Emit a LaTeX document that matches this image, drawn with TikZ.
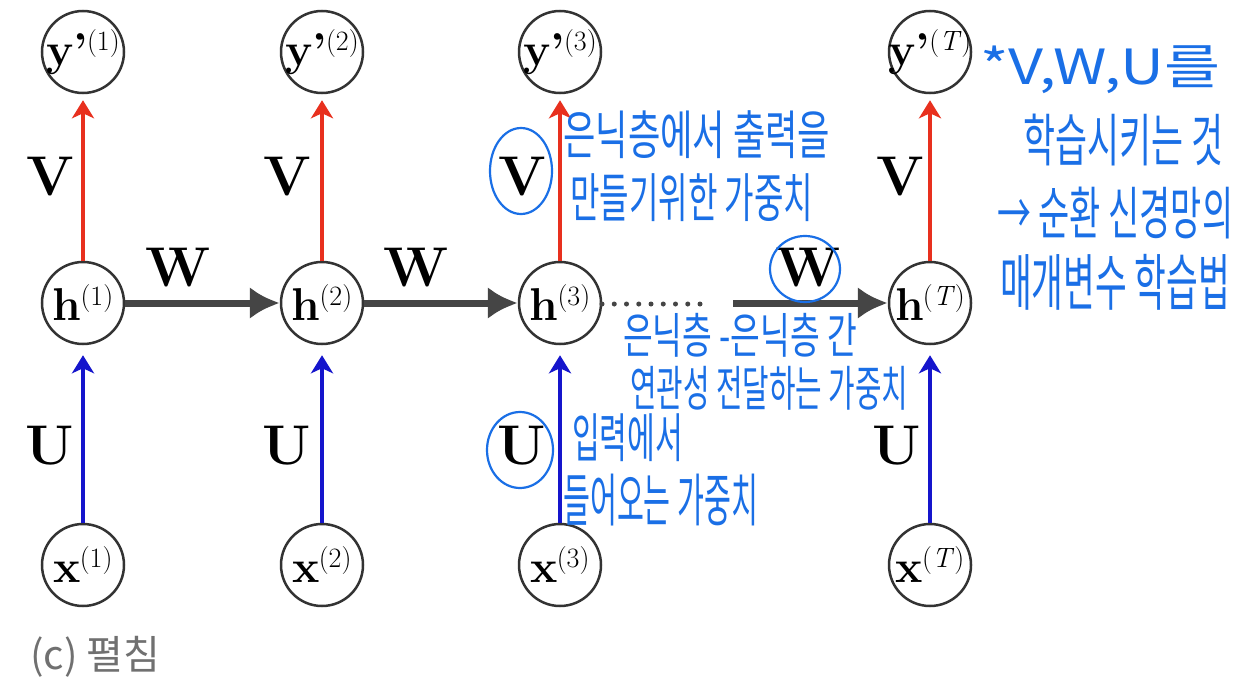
\documentclass[tikz,border=0pt]{standalone}
\usepackage{fontspec}
\usepackage{graphicx}
\usetikzlibrary{arrows.meta,shapes.geometric}
\newfontfamily\hand{Noto Sans CJK KR}
\definecolor{redarr}{HTML}{E8301E}
\definecolor{bluearr}{HTML}{1515CC}
\definecolor{warr}{HTML}{454545}
\definecolor{ink}{HTML}{1A6FE6}
\definecolor{ring}{HTML}{333333}
\definecolor{capgray}{HTML}{707070}
\newcommand{\hw}[3]{\resizebox*{#1pt}{#2pt}{\hand #3}}
\newcommand{\cl}[2]{{\fontsize{46}{50}\selectfont\bfseries #1}\kern-1pt\raisebox{15pt}{\fontsize{28}{30}\selectfont #2}}
\begin{document}
\begin{tikzpicture}[x=1pt,y=-1pt,
  circ/.style={draw=ring,line width=2.5pt,circle,minimum size=82pt,inner sep=0pt},
  inlbl/.style={inner sep=0pt},
  wlbl/.style={font=\fontsize{56}{60}\selectfont\bfseries,inner sep=0pt},
  vedge/.style={draw=redarr,line width=4pt,-{Stealth[length=18pt,width=22pt,inset=5pt]},shorten >=6pt},
  uedge/.style={draw=bluearr,line width=4.5pt,-{Stealth[length=18pt,width=22pt,inset=5pt]},shorten >=10pt},
  hedge/.style={draw=warr,line width=7pt,-{Latex[length=30pt,width=32pt]}},
  inkring/.style={draw=ink,line width=2.2pt,ellipse,inner sep=0pt},
  note/.style={text=ink,inner sep=0pt,anchor=west},
  caption/.style={text=capgray,font=\hand\fontsize{40}{44}\selectfont,inner sep=0pt,anchor=west}]
\useasboundingbox[fill=white] (0,0) rectangle (1236,680);

% nodes
\foreach \c/\xx in {1/83,2/322,3/560,4/930}{
  \node[circ] (y\c) at (\xx,52) {};
  \node[circ] (h\c) at (\xx,303) {};
  \node[circ] (x\c) at (\xx,565) {};
}
\node[inlbl] (ly1) at (y1) {\cl{y’}{(1)}};
\node[inlbl] (ly2) at (y2) {\cl{y’}{(2)}};
\node[inlbl] (ly3) at (y3) {\cl{y’}{(3)}};
\node[inlbl] (ly4) at (y4) {\cl{y’}{(\textit{T})}};
\node[inlbl] (lh1) at (h1) {\cl{h}{(1)}};
\node[inlbl] (lh2) at (h2) {\cl{h}{(2)}};
\node[inlbl] (lh3) at (h3) {\cl{h}{(3)}};
\node[inlbl] (lh4) at (h4) {\cl{h}{(\textit{T})}};
\node[inlbl] (lx1) at (x1) {\cl{x}{(1)}};
\node[inlbl] (lx2) at (x2) {\cl{x}{(2)}};
\node[inlbl] (lx3) at (x3) {\cl{x}{(3)}};
\node[inlbl] (lx4) at (x4) {\cl{x}{(\textit{T})}};

% edges
\foreach \c in {1,2,3,4}{
  \draw[vedge] (h\c) -- (y\c);
  \draw[uedge] (x\c) -- (h\c);
}
\draw[hedge] (h1) -- (h2);
\draw[hedge] (h2) -- (h3);
\coordinate (d1) at (602,304);
\coordinate (d2) at (702,304);
\draw[warr,line width=5pt,line cap=round,dash pattern=on 0pt off 12.25pt] (d1) -- (d2);
\coordinate (ws) at (733,303);
\draw[hedge] (ws) -- (h4.west);

% weight labels
\node[wlbl] (V1) at (50,177) {V};
\node[wlbl] (V2) at (287,177) {V};
\node[wlbl] (V3) at (522,177) {V};
\node[wlbl] (V4) at (900,177) {V};
\node[wlbl] (W1) at (178,268) {W};
\node[wlbl] (W2) at (416,268) {W};
\node[wlbl] (W3) at (808,268) {W};
\node[wlbl] (U1) at (50,446) {U};
\node[wlbl] (U2) at (287,446) {U};
\node[wlbl] (U3) at (522,446) {U};
\node[wlbl] (U4) at (897,446) {U};

% handwritten marks
\node[inkring,minimum width=62pt,minimum height=86pt] (cV) at (521,171) {};
\node[inkring,minimum width=70pt,minimum height=66pt] (cW) at (805,269) {};
\node[inkring,minimum width=66pt,minimum height=76pt] (cU) at (520,450) {};

\node[note] (n1) at (563,135) {\hw{267}{48}{은닉층에서 출력을}};
\node[note] (n2) at (570,198) {\hw{243}{48}{만들기위한 가중치}};
\node[note] (n3) at (623,335) {\hw{234}{44}{은닉층 -은닉층 간}};
\node[note] (n4) at (630,388) {\hw{278}{44}{연관성 전달하는 가중치}};
\node[note] (n5) at (572,438) {\hw{111}{48}{입력에서}};
\node[note] (n6) at (563,500) {\hw{195}{52}{들어오는 가중치}};
\node[note] (n7) at (980,70) {\hw{240}{48}{*V,W,U를}};
\node[note] (n8) at (1023,140) {\hw{200}{52}{학습시키는 것}};
\node[note] (n9) at (997,213) {\hw{236}{52}{→ 순환 신경망의}};
\node[note] (n10) at (1000,282) {\hw{230}{56}{매개변수 학습법}};

% caption
\node[caption] (cap) at (30,657) {(c) 펼침};
\end{tikzpicture}
\end{document}
